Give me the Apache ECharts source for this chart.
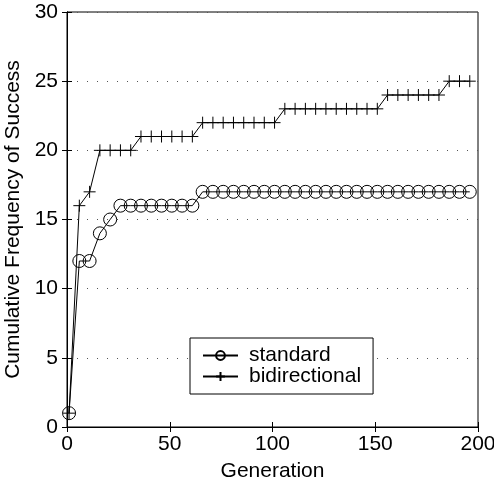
<!DOCTYPE html>
<html>
<head>
<meta charset="utf-8">
<script src="https://cdn.jsdelivr.net/npm/echarts@6/dist/echarts.min.js"></script>
<style>html,body{margin:0;padding:0;background:#fff}#c{width:494px;height:482px}</style>
</head>
<body>
<div id="c"></div>
<script>
var generations = [1,6,11,16,21,26,31,36,41,46,51,56,61,66,71,76,81,86,91,96,101,106,111,116,121,126,131,136,141,146,151,156,161,166,171,176,181,186,191,196];
var standard = [1,12,12,14,15,16,16,16,16,16,16,16,16,17,17,17,17,17,17,17,17,17,17,17,17,17,17,17,17,17,17,17,17,17,17,17,17,17,17,17];
var bidirectional = [1,16,17,20,20,20,20,21,21,21,21,21,21,22,22,22,22,22,22,22,22,23,23,23,23,23,23,23,23,23,23,24,24,24,24,24,24,25,25,25];
var xTicks = [0,50,100,150,200];
var yTicks = [0,5,10,15,20,25,30];

function pairs(xs, ys){ return xs.map(function(x,i){ return [x, ys[i]]; }); }
var font = 'Liberation Sans, Arial, Helvetica, sans-serif';
var fs = 21;
var tick = {inside:true,length:5,lineStyle:{color:'#000'}};
var chart = echarts.init(document.getElementById('c'));
chart.setOption({
  animation:false,
  backgroundColor:'#fff',
  grid:{left:67,right:16,top:12,bottom:55,show:true,borderColor:'#000',borderWidth:1,
        containLabel:false,outerBoundsMode:'none'},
  xAxis:[{type:'value',min:xTicks[0],max:xTicks[xTicks.length-1],interval:xTicks[1]-xTicks[0],
    name:'Generation',nameLocation:'middle',nameGap:34,
    nameTextStyle:{fontFamily:font,fontSize:fs,color:'#000'},
    axisLine:{lineStyle:{color:'#000',width:1}},
    axisTick:tick,
    axisLabel:{fontFamily:font,fontSize:fs,color:'#000',margin:7},
    splitLine:{show:false}},
   {type:'value',position:'top',min:xTicks[0],max:xTicks[xTicks.length-1],interval:xTicks[1]-xTicks[0],
    axisLine:{lineStyle:{color:'#000'}},axisTick:tick,axisLabel:{show:false},splitLine:{show:false}}],
  yAxis:[{type:'value',min:yTicks[0],max:yTicks[yTicks.length-1],interval:yTicks[1]-yTicks[0],
    name:'Cumulative Frequency of Success',nameLocation:'middle',nameGap:37,
    nameTextStyle:{fontFamily:font,fontSize:fs,color:'#000'},
    axisLine:{lineStyle:{color:'#000',width:1}},
    axisTick:tick,
    axisLabel:{fontFamily:font,fontSize:fs,color:'#000',margin:9},
    splitLine:{show:true,lineStyle:{color:'#555',type:[1,9],width:1}}},
   {type:'value',position:'right',min:yTicks[0],max:yTicks[yTicks.length-1],interval:yTicks[1]-yTicks[0],
    axisLine:{lineStyle:{color:'#000'}},axisTick:tick,axisLabel:{show:false},splitLine:{show:false}}],
  legend:{left:190,top:338,orient:'vertical',itemGap:0,itemWidth:35,itemHeight:11,
    padding:[7,12,7,12],
    backgroundColor:'#fff',borderColor:'#000',borderWidth:1,borderRadius:0,
    textStyle:{fontFamily:font,fontSize:fs,color:'#000',lineHeight:20,padding:[0,0,0,6]},
    data:['standard','bidirectional']},
  series:[
    {name:'standard',type:'line',data:pairs(generations,standard),
     symbol:'circle',symbolSize:13,
     lineStyle:{color:'#000',width:1},
     itemStyle:{color:'none',borderColor:'#000',borderWidth:1}},
    {name:'bidirectional',type:'line',data:pairs(generations,bidirectional),
     symbol:'path://M5,0 L5,10 M0,5 L10,5',symbolSize:12,
     lineStyle:{color:'#000',width:1},
     itemStyle:{color:'none',borderColor:'#000',borderWidth:1}}
  ]
});
</script>
</body>
</html>
